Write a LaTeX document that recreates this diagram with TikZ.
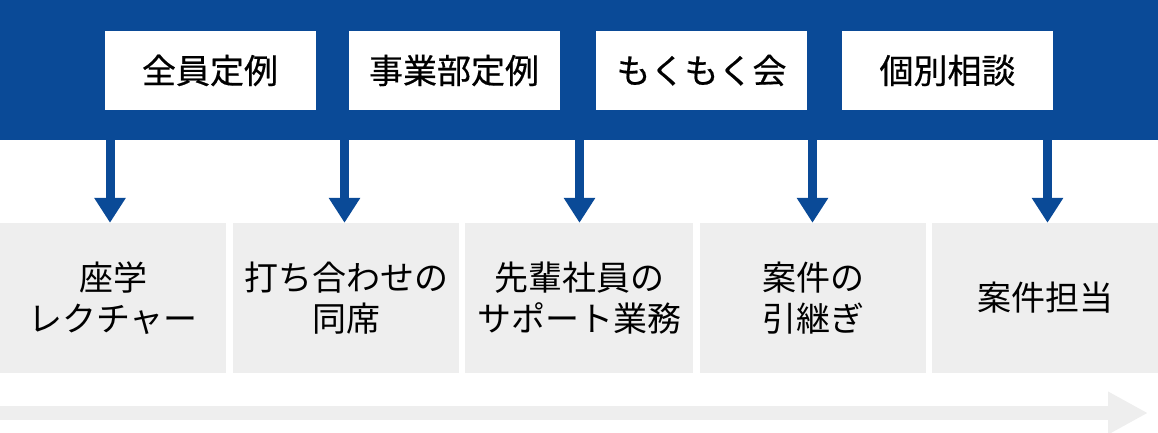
\documentclass[tikz,border=0pt]{standalone}
\usepackage{fontspec}
\newfontfamily\jpmed[FakeBold=0.5]{Noto Sans CJK JP}
\newfontfamily\jpreg{Noto Sans CJK JP}
\usetikzlibrary{arrows.meta}
\definecolor{bandblue}{HTML}{0A4A97}
\definecolor{boxgray}{HTML}{EEEEEE}
\tikzset{
  topbox/.style={fill=white, minimum width=211pt, minimum height=79pt, inner sep=0pt,
    font=\fontsize{34pt}{41pt}\selectfont\jpmed, text=black, anchor=center},
  graybox/.style={fill=boxgray, minimum height=150pt, inner sep=0pt,
    font=\fontsize{34pt}{41pt}\selectfont\jpreg, text=black, align=center, anchor=center},
  flowarrow/.style={draw=bandblue, line width=9pt,
    -{Triangle[width=30pt,length=25pt]}},
  timeline/.style={draw=boxgray, line width=14pt,
    -{Triangle[width=40pt,length=40pt]}}
}
\begin{document}
\begin{tikzpicture}[x=1pt,y=-1pt]
\useasboundingbox (0,0) rectangle (1158,433);
% blue band
\node[fill=bandblue, minimum width=1158pt, minimum height=140pt, inner sep=0pt, anchor=north west] (band) at (0,0) {};
% top boxes
\node[topbox] (t1) at (210,70.5) {全員定例};
\node[topbox] (t2) at (454,70.5) {事業部定例};
\node[topbox] (t3) at (701.5,70.5) {もくもく会};
\node[topbox] (t4) at (947.5,70.5) {個別相談};
% gray boxes
\node[graybox, minimum width=226pt] (g1) at (113,298) {座学\\レクチャー};
\node[graybox, minimum width=226pt] (g2) at (346,298) {打ち合わせの\\同席};
\node[graybox, minimum width=228pt] (g3) at (579,298) {先輩社員の\\サポート業務};
\node[graybox, minimum width=226pt] (g4) at (813,298) {案件の\\引継ぎ};
\node[graybox, minimum width=226pt] (g5) at (1045,298) {案件担当};
% arrow x positions
\coordinate (x1) at (110,0);
\coordinate (x2) at (344.5,0);
\coordinate (x3) at (579.5,0);
\coordinate (x4) at (812.5,0);
\coordinate (x5) at (1047.5,0);
\draw[flowarrow] (band.south -| x1) -- (g1.north -| x1);
\draw[flowarrow] (band.south -| x2) -- (g2.north -| x2);
\draw[flowarrow] (band.south -| x3) -- (g3.north -| x3);
\draw[flowarrow] (band.south -| x4) -- (g4.north -| x4);
\draw[flowarrow] (band.south -| x5) -- (g5.north -| x5);
% timeline arrow
\coordinate (tlstart) at (0,413);
\coordinate (tlend) at (1148,413);
\draw[timeline] (tlstart) -- (tlend);
\end{tikzpicture}
\end{document}
